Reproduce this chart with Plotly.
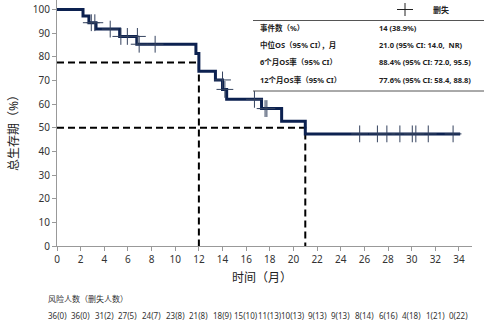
import plotly.graph_objects as go

# ---- data ----
step_times = [0, 2.2, 2.7, 3.3, 5.3, 6.75, 11.75, 12.0, 13.4, 14.0, 14.35, 17.3, 19.0, 21.0, 34.1]
step_surv = [100, 97.2, 94.4, 91.7, 88.6, 85.3, 81.4, 73.9, 70.2, 66.2, 62.0, 58.1, 52.7, 47.4, 47.4]

cens_times = [2.9, 3.2, 4.5, 5.4, 5.95, 6.8, 6.95, 8.3, 14.0, 14.2, 16.7, 17.6, 17.75,
              25.6, 27.1, 27.9, 29.0, 30.05, 30.35, 31.4, 33.5]
cens_surv = [94.4, 94.4, 91.7, 88.6, 88.6, 88.6, 85.3, 85.3, 70.2, 66.2, 62.0, 58.1, 58.1,
             47.4, 47.4, 47.4, 47.4, 47.4, 47.4, 47.4, 47.4]

ref_times = [12, 21]        # 12-month landmark, median
ref_surv = [77.6, 50]

x_ticks = list(range(0, 35, 2))
y_ticks = list(range(0, 101, 10))
risk_labels = ["36(0)", "36(0)", "31(2)", "27(5)", "24(7)", "23(8)", "21(8)", "18(9)", "15(10)",
               "11(13)", "10(13)", "9(13)", "9(13)", "8(14)", "6(16)", "4(18)", "1(21)", "0(22)"]

table_left = ["事件数（%）", "中位OS（95% CI），月", "6个月OS率（95% CI）", "12个月OS率（95% CI）"]
table_right = ["14 (38.9%)", "21.0 (95% CI: 14.0,  NR)", "88.4% (95% CI: 72.0, 95.5)", "77.6% (95% CI: 58.4, 88.8)"]

# ---- layout geometry ----
W, H = 500, 323
ML, MR, MT, MB = 57, 28, 0, 77
PW, PH = W - ML - MR, H - MT - MB
X_MAX, Y_MAX = 35.1, 104


def px(xp):
    return (xp - ML) / PW


def py(yp):
    return (H - MB - yp) / PH


FONT = "Noto Sans, Noto Sans CJK SC, sans-serif"
fig = go.Figure()

# reference dashed lines
for t, s in zip(ref_times, ref_surv):
    fig.add_trace(go.Scatter(x=[0, t, t], y=[s, s, 0], mode="lines",
                             line=dict(color="black", width=2, dash="7px,4px"),
                             hoverinfo="skip", showlegend=False))

# KM curve
fig.add_trace(go.Scatter(x=step_times, y=step_surv, mode="lines", line_shape="hv",
                         line=dict(color="#0c2150", width=3), showlegend=False))

# censor marks
fig.add_trace(go.Scatter(x=cens_times, y=cens_surv, mode="markers",
                         marker=dict(symbol="cross-thin", size=12,
                                     line=dict(color="#34425e", width=1)),
                         showlegend=False))

# legend-like cross and table lines
shapes = [
    dict(type="line", xref="paper", yref="paper", x0=px(397), x1=px(413), y0=py(9.5), y1=py(9.5),
         line=dict(color="#222", width=1)),
    dict(type="line", xref="paper", yref="paper", x0=px(405), x1=px(405), y0=py(3), y1=py(16),
         line=dict(color="#222", width=1)),
    dict(type="line", xref="paper", yref="paper", x0=px(253), x1=px(484), y0=py(20.5), y1=py(20.5),
         line=dict(color="#555", width=1)),
    dict(type="line", xref="paper", yref="paper", x0=px(253), x1=px(484), y0=py(91), y1=py(91),
         line=dict(color="#555", width=1)),
]
fig.update_layout(shapes=shapes)

ann = []
ann.append(dict(text="<b>删失</b>", x=px(431), y=py(9.5), xref="paper", yref="paper", xanchor="left",
                yanchor="middle", showarrow=False, font=dict(size=8, color="#222", family=FONT)))
row_y = [28, 45, 62.5, 80]
for ly, l, r in zip(row_y, table_left, table_right):
    ann.append(dict(text="<b>" + l + "</b>", x=px(258), y=py(ly), xref="paper", yref="paper",
                    xanchor="left", yanchor="middle", showarrow=False,
                    font=dict(size=7.5, color="#222", family=FONT)))
    ann.append(dict(text="<b>" + r + "</b>", x=px(377), y=py(ly), xref="paper", yref="paper",
                    xanchor="left", yanchor="middle", showarrow=False,
                    font=dict(size=7.5, color="#222", family=FONT)))

# axis titles
ann.append(dict(text="时间（月）", x=px(262), y=py(277), xref="paper", yref="paper",
                xanchor="center", yanchor="middle", showarrow=False,
                font=dict(size=12, color="#222", family=FONT)))
ann.append(dict(text="总生存期（%）", x=px(13), y=py(130), xref="paper", yref="paper",
                xanchor="center", yanchor="middle", textangle=-90, showarrow=False,
                font=dict(size=12, color="#222", family=FONT)))

# risk table
ann.append(dict(text="风险人数（删失人数）", x=px(46), y=py(298), xref="paper", yref="paper",
                xanchor="left", yanchor="middle", showarrow=False,
                font=dict(size=8, color="#333", family=FONT)))
for t, lab in zip(x_ticks, risk_labels):
    ann.append(dict(text=lab, x=t, y=py(315), xref="x", yref="paper", xanchor="center",
                    yanchor="middle", showarrow=False,
                    font=dict(size=8, color="#333", family=FONT)))

fig.update_layout(
    annotations=ann,
    width=W, height=H,
    margin=dict(l=ML, r=MR, t=MT, b=MB, pad=0),
    paper_bgcolor="white", plot_bgcolor="white",
    font=dict(family=FONT),
    xaxis=dict(range=[0, X_MAX], tickvals=x_ticks, showgrid=False, zeroline=False,
               showline=True, linecolor="#999", linewidth=1, ticks="outside", ticklen=4,
               tickcolor="#999", tickfont=dict(size=10, color="#333", family=FONT)),
    yaxis=dict(range=[0, Y_MAX], tickvals=y_ticks, showgrid=False, zeroline=False,
               showline=True, linecolor="#999", linewidth=1, ticks="outside", ticklen=4,
               tickcolor="#999", tickfont=dict(size=10, color="#333", family=FONT)),
)

fig.write_html("out.html")
